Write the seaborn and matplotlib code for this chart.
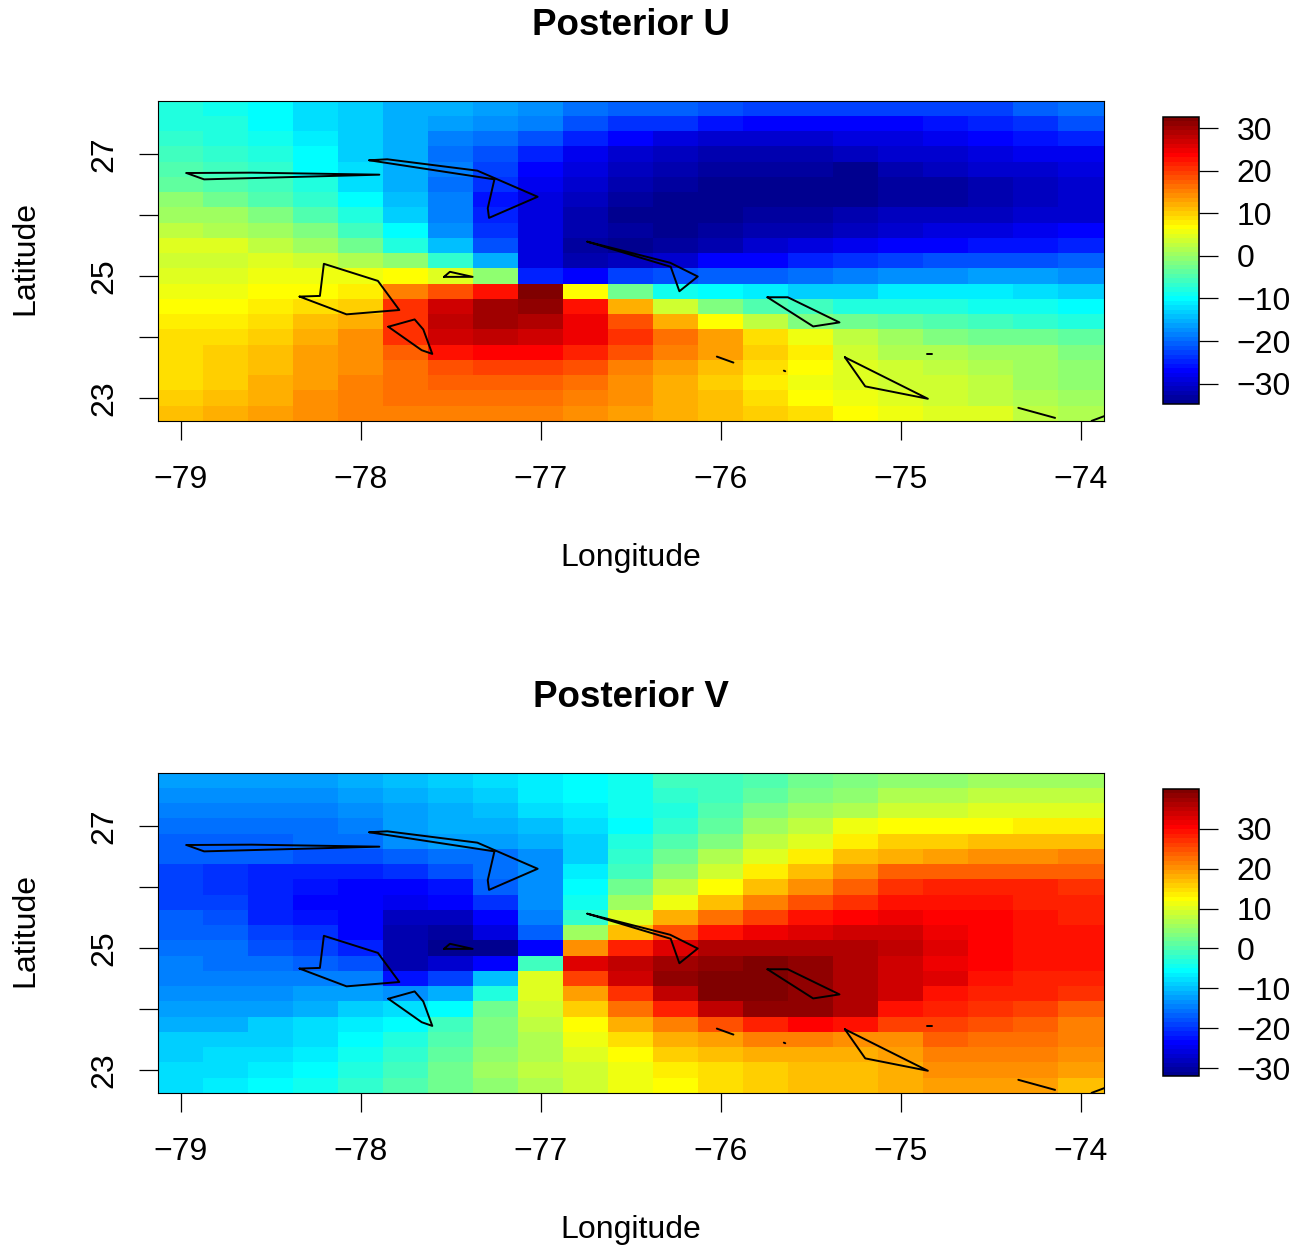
import numpy as np
import pandas as pd
import matplotlib.pyplot as plt
import seaborn as sns
from matplotlib.colors import LinearSegmentedColormap

# Grid of the two fields
lons = [-79 + 0.25 * i for i in range(21)]
lats = [27.75 - 0.25 * i for i in range(21)]

# Values are read as steps of the 64 colour scale (0 = lowest, 63 = highest), top row first
u_steps = [
    [25, 24, 23, 21, 20, 18, 18, 17, 16, 14, 13, 13, 12, 11, 11, 11, 11, 11, 11, 13, 14],
    [25, 25, 23, 21, 20, 18, 17, 16, 15, 12, 10, 10, 8, 7, 7, 7, 7, 8, 9, 10, 12],
    [26, 25, 24, 22, 20, 18, 15, 14, 12, 9, 7, 5, 4, 4, 4, 5, 5, 6, 7, 8, 9],
    [27, 26, 25, 23, 20, 18, 14, 12, 9, 6, 4, 3, 2, 2, 2, 3, 4, 4, 5, 6, 6],
    [28, 27, 26, 23, 21, 18, 15, 11, 7, 5, 3, 2, 1, 1, 1, 0, 2, 3, 4, 4, 5],
    [29, 28, 27, 25, 21, 18, 14, 10, 6, 4, 2, 1, 0, 0, 0, 0, 1, 1, 2, 3, 4],
    [32, 30, 28, 26, 23, 19, 15, 8, 5, 3, 1, 0, 0, 0, 0, 0, 1, 1, 2, 3, 4],
    [33, 33, 31, 28, 25, 20, 15, 9, 5, 2, 0, 0, 0, 1, 1, 2, 3, 3, 3, 4, 4],
    [35, 34, 33, 31, 27, 23, 16, 10, 5, 2, 1, 0, 1, 2, 2, 3, 4, 5, 5, 6, 7],
    [37, 37, 35, 33, 30, 25, 19, 12, 5, 1, 0, 1, 2, 4, 5, 6, 7, 7, 8, 8, 9],
    [36, 36, 37, 36, 34, 32, 26, 18, 5, 2, 3, 4, 7, 7, 9, 10, 11, 12, 12, 12, 13],
    [37, 37, 38, 38, 38, 39, 37, 32, 9, 7, 11, 12, 13, 13, 14, 15, 16, 16, 17, 17, 16],
    [38, 38, 39, 39, 40, 47, 50, 54, 63, 39, 30, 24, 23, 22, 20, 20, 22, 22, 22, 21, 20],
    [39, 39, 40, 41, 42, 52, 58, 61, 62, 54, 44, 36, 31, 28, 27, 25, 25, 25, 24, 24, 23],
    [40, 40, 41, 43, 44, 52, 59, 61, 60, 56, 50, 44, 39, 35, 31, 30, 29, 28, 27, 26, 25],
    [41, 41, 42, 44, 46, 52, 58, 59, 58, 56, 52, 48, 45, 41, 38, 35, 33, 31, 30, 30, 29],
    [41, 42, 43, 45, 46, 49, 54, 55, 55, 53, 50, 47, 45, 42, 40, 36, 34, 34, 33, 33, 31],
    [41, 42, 43, 45, 46, 48, 50, 51, 51, 50, 47, 45, 43, 41, 39, 37, 36, 35, 34, 33, 32],
    [41, 42, 44, 45, 47, 48, 49, 49, 49, 48, 46, 44, 42, 40, 38, 37, 36, 36, 35, 33, 32],
    [42, 43, 44, 46, 47, 48, 48, 48, 48, 47, 46, 44, 43, 41, 39, 38, 37, 36, 35, 34, 33],
    [43, 44, 45, 46, 47, 47, 47, 47, 47, 46, 45, 44, 43, 42, 41, 39, 38, 37, 37, 35, 34],
]
v_steps = [
    [17, 17, 17, 17, 18, 19, 20, 21, 22, 23, 24, 27, 27, 28, 30, 31, 32, 32, 33, 33, 33],
    [16, 16, 16, 16, 17, 18, 19, 20, 22, 23, 24, 26, 27, 29, 31, 32, 34, 34, 35, 35, 35],
    [15, 15, 15, 15, 16, 17, 18, 19, 21, 22, 24, 25, 28, 31, 33, 34, 36, 36, 37, 37, 37],
    [14, 14, 14, 14, 15, 17, 18, 18, 19, 21, 23, 26, 29, 33, 35, 38, 39, 39, 39, 40, 40],
    [13, 13, 13, 14, 14, 16, 17, 17, 18, 20, 25, 28, 31, 35, 37, 40, 42, 42, 43, 43, 43],
    [13, 13, 13, 12, 12, 13, 14, 14, 16, 20, 26, 30, 34, 37, 40, 43, 44, 45, 46, 46, 47],
    [11, 10, 9, 9, 9, 10, 12, 14, 16, 22, 27, 32, 36, 40, 43, 46, 49, 49, 49, 49, 49],
    [11, 10, 9, 8, 7, 7, 8, 13, 16, 23, 30, 35, 39, 43, 46, 49, 52, 53, 53, 53, 52],
    [11, 11, 9, 7, 7, 6, 7, 10, 16, 24, 33, 38, 43, 47, 50, 52, 54, 54, 54, 53, 53],
    [13, 12, 9, 8, 7, 3, 3, 7, 15, 26, 37, 44, 48, 51, 54, 55, 56, 55, 55, 54, 53],
    [13, 13, 11, 10, 7, 2, 1, 5, 13, 33, 43, 50, 54, 56, 57, 58, 58, 56, 55, 54, 54],
    [14, 14, 12, 11, 9, 2, 0, 0, 7, 46, 53, 57, 60, 60, 60, 60, 59, 57, 55, 54, 54],
    [15, 14, 14, 13, 12, 2, 4, 7, 27, 57, 59, 61, 62, 63, 62, 60, 58, 56, 55, 54, 54],
    [15, 15, 15, 15, 15, 8, 11, 19, 37, 51, 58, 62, 63, 63, 62, 60, 58, 57, 54, 53, 53],
    [16, 16, 16, 17, 17, 16, 18, 25, 37, 45, 52, 59, 63, 63, 62, 60, 58, 54, 53, 53, 52],
    [17, 17, 17, 18, 20, 21, 23, 30, 36, 42, 48, 53, 59, 62, 62, 60, 54, 53, 52, 51, 49],
    [18, 18, 20, 21, 22, 23, 27, 31, 35, 39, 44, 47, 50, 53, 55, 54, 51, 51, 50, 49, 47],
    [20, 20, 20, 21, 23, 25, 28, 31, 34, 38, 41, 44, 45, 47, 47, 46, 46, 49, 48, 48, 47],
    [20, 21, 21, 22, 24, 26, 29, 32, 34, 37, 39, 42, 43, 44, 44, 44, 45, 47, 47, 47, 46],
    [21, 21, 22, 23, 25, 27, 30, 33, 35, 36, 38, 40, 41, 42, 43, 43, 44, 46, 46, 46, 45],
    [21, 22, 23, 24, 26, 28, 30, 32, 34, 36, 38, 39, 41, 42, 43, 43, 44, 45, 45, 45, 43],
]

# Ends of the two colour bars
u_range = (-34.8, 32.65)
v_range = (-31.9, 39.9)

# Island outlines, lon/lat
islands = [
    [(-78.967, 26.687), (-78.869, 26.583), (-77.896, 26.660), (-78.606, 26.693), (-78.967, 26.687)],
    [(-77.952, 26.896), (-77.852, 26.912), (-77.352, 26.726), (-77.017, 26.298), (-77.287, 25.952),
     (-77.294, 26.111), (-77.257, 26.583), (-77.952, 26.896)],
    [(-77.537, 24.986), (-77.504, 25.069), (-77.378, 24.986), (-77.537, 24.986)],
    [(-78.339, 24.663), (-78.226, 24.674), (-78.204, 25.200), (-77.904, 24.920), (-77.785, 24.443),
     (-78.078, 24.372), (-78.339, 24.663)],
    [(-77.846, 24.169), (-77.700, 24.289), (-77.652, 24.125), (-77.602, 23.724), (-77.661, 23.785),
     (-77.846, 24.169)],
    [(-76.741, 25.562), (-76.281, 25.217), (-76.128, 24.992), (-76.230, 24.750), (-76.278, 25.151),
     (-76.741, 25.562)],
    [(-75.741, 24.652), (-75.628, 24.652), (-75.341, 24.240), (-75.487, 24.174), (-75.741, 24.652)],
    [(-76.022, 23.680), (-75.930, 23.582)],
    [(-75.650, 23.450), (-75.642, 23.440)],
    [(-74.856, 23.719), (-74.828, 23.719)],
    [(-75.311, 23.669), (-75.198, 23.192), (-74.850, 22.989), (-75.311, 23.669)],
    [(-74.348, 22.841), (-74.144, 22.676)],
    [(-73.941, 22.627), (-73.867, 22.709)],
]

lon_ticks = [-79, -78, -77, -76, -75, -74]
lon_labels = ['\u221279', '\u221278', '\u221277', '\u221276', '\u221275', '\u221274']
lat_ticks = [23, 24, 25, 26, 27]
lat_labels = ['23', '', '25', '', '27']
bar_ticks = [-30, -20, -10, 0, 10, 20, 30]

sns.set_theme(style='white')
plt.rcParams['font.family'] = ['Liberation Sans', 'DejaVu Sans']

# Same colours as fields::tim.colors(64)
tim_colors = LinearSegmentedColormap.from_list(
    'tim',
    [(0, '#00008F'), (7 / 63, '#0000FF'), (23 / 63, '#00FFFF'), (39 / 63, '#FFFF00'),
     (55 / 63, '#FF0000'), (1, '#800000')],
    N=64,
)

W, H = 1312, 1249
fig = plt.figure(figsize=(W / 100, H / 100), dpi=100)


def px_axes(left, top, right, bottom):
    return fig.add_axes([left / W, 1 - bottom / H, (right - left) / W, (bottom - top) / H])


def lon_pos(lon):
    return (np.asarray(lon) + 79.125) / 0.25


def lat_pos(lat):
    return (27.875 - np.asarray(lat)) / 0.25


def draw_field(steps, val_range, title, top, bar_top, bar_bottom):
    low, high = val_range
    values = low + (np.array(steps) + 0.5) / 64 * (high - low)
    df = pd.DataFrame(values, index=lats, columns=lons)

    ax = px_axes(158, top, 1103.5, top + 320.5)
    cax = px_axes(1163, bar_top, 1198.5, bar_bottom)
    sns.heatmap(df, ax=ax, cbar_ax=cax, cmap=tim_colors, vmin=low, vmax=high,
                xticklabels=False, yticklabels=False, cbar_kws={'ticks': bar_ticks})

    for shape in islands:
        pts = np.array(shape)
        ax.plot(lon_pos(pts[:, 0]), lat_pos(pts[:, 1]), color='black', lw=1.4)

    ax.set_xlim(0, 21)
    ax.set_ylim(21, 0)
    ax.set_xticks(lon_pos(lon_ticks))
    ax.set_xticklabels(lon_labels)
    ax.set_yticks(lat_pos(lat_ticks))
    ax.set_yticklabels(lat_labels, rotation=90, va='center')
    ax.tick_params(axis='x', length=14, width=0.9, color='black', pad=17.5,
                   labelsize=23, labelcolor='black', bottom=True)
    ax.tick_params(axis='y', length=14, width=0.9, color='black', pad=13.5,
                   labelsize=23, labelcolor='black', left=True)
    for spine in ax.spines.values():
        spine.set_visible(True)
        spine.set_color('black')
        spine.set_linewidth(0.8)

    ax.set_title(title, fontsize=26.5, fontweight='bold', color='black', pad=47)
    ax.set_xlabel('Longitude', fontsize=23, color='black')
    ax.set_ylabel('Latitude', fontsize=23, color='black')
    ax.xaxis.set_label_coords(0.5, -137 / 320.5, transform=ax.transAxes)
    ax.xaxis.label.set_verticalalignment('center')
    ax.yaxis.set_label_coords(-133 / 945.5, 0.5 + 3 / 320.5, transform=ax.transAxes)
    ax.yaxis.label.set_verticalalignment('center')

    cax.tick_params(axis='y', length=14, width=0.9, color='black', pad=13.5,
                    labelsize=23, labelcolor='black', right=True)
    cbar = ax.collections[0].colorbar
    cbar.outline.set_visible(True)
    cbar.outline.set_edgecolor('black')
    cbar.outline.set_linewidth(1.1)


draw_field(u_steps, u_range, 'Posterior U', 100.5, 117, 404)
draw_field(v_steps, v_range, 'Posterior V', 772.5, 789, 1076)

plt.savefig('out.png', dpi=100)
